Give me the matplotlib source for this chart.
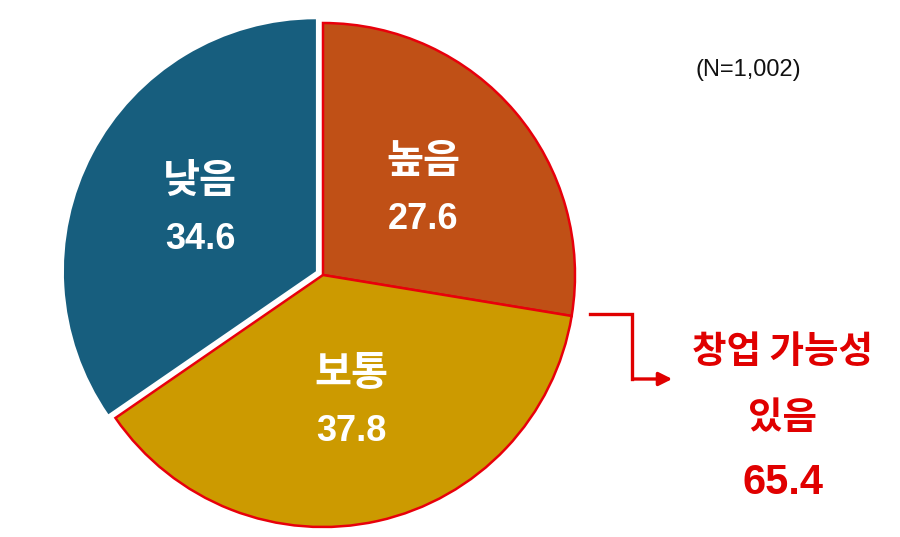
import matplotlib.pyplot as plt
import numpy as np

# Data
categories = ['높음', '보통', '낮음']
values = [27.6, 37.8, 34.6]
colors = ['#C05016', '#CC9A00', '#175E7E']
sample_note = '(N=1,002)'
summary_label = ['창업 가능성', '있음']
summary_value = 65.4  # 높음 + 보통

plt.rcParams['font.family'] = ['Liberation Sans', 'Noto Sans CJK KR', 'DejaVu Sans']

fig = plt.figure(figsize=(9, 5.37), dpi=100)
ax = fig.add_axes([0, 0, 1, 1])

# pie in pixel-like data coordinates
cx, cy, R = 323, 262, 252
explode = [0, 0, 8]
wedges, _ = ax.pie(values, colors=colors, startangle=90, counterclock=False,
                   center=(cx, cy), radius=R, explode=explode,
                   wedgeprops=dict(linewidth=1.8))
for w, c in zip(wedges, categories):
    if c == '낮음':
        w.set_edgecolor('none')
    else:
        w.set_edgecolor('#E8000B')

ax.set_xlim(0, 900)
ax.set_ylim(0, 537)
ax.set_aspect('equal')
ax.axis('off')

# labels inside slices
for w, c, v in zip(wedges, categories, values):
    mid = np.deg2rad((w.theta1 + w.theta2) / 2)
    wx, wy = w.center
    lx = wx + 0.52 * R * np.cos(mid)
    ly = wy + 0.52 * R * np.sin(mid)
    ax.text(lx, ly + 29, c, ha='center', va='center', color='white',
            fontsize=29, fontweight='bold', family=['Noto Sans CJK KR'])
    ax.text(lx, ly - 29, f'{v:.1f}', ha='center', va='center', color='white',
            fontsize=26, fontweight='bold')

# sample size
ax.text(748, 467, sample_note, ha='center', va='center', fontsize=17, color='#111111')

# connector arrow from the 높음/보통 boundary
b = np.deg2rad(wedges[0].theta1)
x0 = cx + R * np.cos(b) + 18
y0 = cy + R * np.sin(b) + 2
red = '#E00000'
ax.plot([x0, 632, 632], [y0, y0, 158], color=red, lw=2.4, solid_joinstyle='miter')
ax.annotate('', xy=(675, 158), xytext=(631, 158),
            arrowprops=dict(arrowstyle='-|>', color=red, lw=2.4, mutation_scale=20))

ax.text(783, 185, summary_label[0], ha='center', va='center', color=red,
        fontsize=27, fontweight='bold', family=['Noto Sans CJK KR'])
ax.text(783, 120, summary_label[1], ha='center', va='center', color=red,
        fontsize=27, fontweight='bold', family=['Noto Sans CJK KR'])
ax.text(783, 54, f'{summary_value:.1f}', ha='center', va='center', color=red,
        fontsize=30, fontweight='bold')

plt.savefig('out.png', dpi=100)
